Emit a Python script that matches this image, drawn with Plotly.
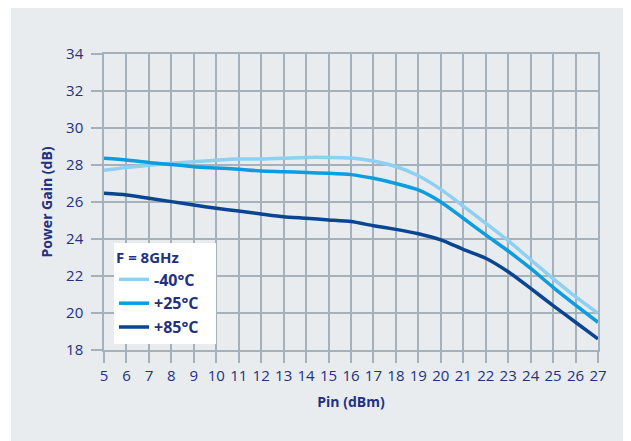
import plotly.graph_objects as go

pin = list(range(5, 28))
gain_m40 = [27.71, 27.87, 27.98, 28.09, 28.18, 28.26, 28.32, 28.32, 28.36, 28.41, 28.41, 28.38,
            28.22, 27.92, 27.42, 26.68, 25.78, 24.85, 23.91, 22.88, 21.86, 20.88, 19.98]
gain_p25 = [28.36, 28.27, 28.13, 28.03, 27.91, 27.84, 27.77, 27.68, 27.64, 27.59, 27.55, 27.48,
            27.28, 27.0, 26.65, 26.0, 25.12, 24.22, 23.35, 22.41, 21.39, 20.43, 19.5]
gain_p85 = [26.47, 26.38, 26.2, 26.02, 25.84, 25.66, 25.51, 25.35, 25.2, 25.12, 25.03, 24.94,
            24.72, 24.52, 24.28, 23.95, 23.44, 22.96, 22.23, 21.33, 20.4, 19.5, 18.6]
series_names = ["-40°C", "+25°C", "+85°C"]
series_colors = ["#8dd0f2", "#0b9de0", "#0a4592"]
x_ticks = list(range(5, 28))
y_ticks = list(range(18, 35, 2))

NAVY = "#22317f"
GRID = "#a5b2bc"
BG = "#e8ecef"
FONT = "'Open Sans', 'Noto Sans', sans-serif"

fig = go.Figure()
for name, ys, col in zip(series_names, [gain_m40, gain_p25, gain_p85], series_colors):
    fig.add_trace(go.Scatter(
        x=pin, y=ys, name="<b>" + name + "</b>&nbsp;&nbsp;&nbsp;", mode="lines",
        line=dict(color=col, width=3.5, shape="spline", smoothing=0.6),
    ))

# page offset: the html body has an 8px margin
OFF = 8
W, H = 631 - OFF, 441 - OFF
ml, mr, mt, mb = 104 - OFF, 33, 54 - OFF, 91
pw, ph = W - ml - mr, H - mt - mb

def px2paper_x(px):
    return (px - OFF - ml) / pw

def py2paper_y(py):
    return (H - mb - (py - OFF)) / ph

# grey panel behind the chart
fig.add_shape(type="rect", xref="paper", yref="paper",
              x0=px2paper_x(11), x1=px2paper_x(640), y0=py2paper_y(6), y1=py2paper_y(450),
              fillcolor=BG, line_width=0, layer="below")

axis_common = dict(
    showgrid=True, gridcolor=GRID, gridwidth=1.5,
    showline=True, linecolor=GRID, linewidth=1.5, mirror=True,
    ticks="outside", ticklen=11, tickcolor=GRID, tickwidth=1.5,
    tickfont=dict(family=FONT, size=15, color=NAVY),
    zeroline=False,
)

fig.update_layout(
    width=W, height=H,
    margin=dict(l=ml, r=mr, t=mt, b=mb),
    paper_bgcolor="white",
    plot_bgcolor=BG,
    font=dict(family=FONT, color=NAVY),
    xaxis=dict(range=[5, 27], tickvals=x_ticks, ticktext=[str(v) for v in x_ticks],
               title=dict(text="<b>Pin (dBm)</b>", font=dict(family=FONT, size=14, color=NAVY), standoff=13),
               **axis_common),
    yaxis=dict(range=[18, 34], tickvals=y_ticks, ticktext=[str(v) for v in y_ticks],
               ticklabelstandoff=5,
               title=dict(text="<b>Power Gain (dB)</b>", font=dict(family=FONT, size=14, color=NAVY), standoff=10),
               **axis_common),
    legend=dict(
        x=px2paper_x(114), y=py2paper_y(243), xanchor="left", yanchor="top",
        bgcolor="white", borderwidth=0,
        title=dict(text="<b>F = 8GHz</b>", font=dict(family=FONT, size=15, color=NAVY)),
        font=dict(family=FONT, size=16, color=NAVY),
        itemwidth=30,
        tracegroupgap=0,
    ),
    showlegend=True,
)

fig.write_html("out.html")
